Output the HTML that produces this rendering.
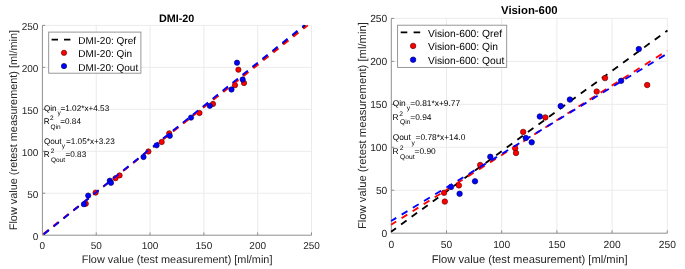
<!DOCTYPE html>
<html><head><meta charset="utf-8"><style>
html,body{margin:0;padding:0;background:#fff;width:685px;height:269px;overflow:hidden}
svg{display:block}
svg text{font-family:'Liberation Sans', Arial, Helvetica, sans-serif;white-space:pre;text-rendering:geometricPrecision}
</style></head><body>
<svg width="685" height="269" viewBox="0 0 685 269">
<rect width="685" height="269" fill="#fff"/>
<path d="M96.22 235.2V25.4M42.4 193.24H311.5M150.04 235.2V25.4M42.4 151.28H311.5M203.86 235.2V25.4M42.4 109.32H311.5M257.68 235.2V25.4M42.4 67.36H311.5M311.5 235.2V25.4M42.4 25.4H311.5" stroke="#ebebeb" stroke-width="1" fill="none"/>
<path d="M42.4 25.4V235.2H311.5M96.22 235.2v-2.8M42.4 193.24h2.8M150.04 235.2v-2.8M42.4 151.28h2.8M203.86 235.2v-2.8M42.4 109.32h2.8M257.68 235.2v-2.8M42.4 67.36h2.8M311.5 235.2v-2.8M42.4 25.4h2.8" stroke="#8f8f8f" stroke-width="1" fill="none"/>
<g font-size="10" fill="#262626"><text x="42.4" y="248.6" text-anchor="middle">0</text><text x="96.22" y="248.6" text-anchor="middle">50</text><text x="150.04" y="248.6" text-anchor="middle">100</text><text x="203.86" y="248.6" text-anchor="middle">150</text><text x="257.68" y="248.6" text-anchor="middle">200</text><text x="311.5" y="248.6" text-anchor="middle">250</text><text x="38.4" y="239.5" text-anchor="end">0</text><text x="38.4" y="197.54" text-anchor="end">50</text><text x="38.4" y="155.58" text-anchor="end">100</text><text x="38.4" y="113.62" text-anchor="end">150</text><text x="38.4" y="71.66" text-anchor="end">200</text><text x="38.4" y="29.7" text-anchor="end">250</text></g>
<line x1="42.5" y1="235.2" x2="305.5" y2="25.4" stroke="#000" stroke-width="1.8" stroke-dasharray="6.6 6.14" stroke-dashoffset="-1.3"/>
<circle cx="85.8" cy="203.7" r="2.65" fill="#ff0000" stroke="#600000" stroke-width="0.65"/>
<circle cx="95.6" cy="192.6" r="2.65" fill="#ff0000" stroke="#600000" stroke-width="0.65"/>
<circle cx="115.5" cy="178.2" r="2.65" fill="#ff0000" stroke="#600000" stroke-width="0.65"/>
<circle cx="119.6" cy="175.4" r="2.65" fill="#ff0000" stroke="#600000" stroke-width="0.65"/>
<circle cx="148.4" cy="151.5" r="2.65" fill="#ff0000" stroke="#600000" stroke-width="0.65"/>
<circle cx="161.7" cy="142" r="2.65" fill="#ff0000" stroke="#600000" stroke-width="0.65"/>
<circle cx="169.2" cy="133.3" r="2.65" fill="#ff0000" stroke="#600000" stroke-width="0.65"/>
<circle cx="199.5" cy="113" r="2.65" fill="#ff0000" stroke="#600000" stroke-width="0.65"/>
<circle cx="213" cy="103.9" r="2.65" fill="#ff0000" stroke="#600000" stroke-width="0.65"/>
<circle cx="235" cy="85.2" r="2.65" fill="#ff0000" stroke="#600000" stroke-width="0.65"/>
<circle cx="244" cy="83" r="2.65" fill="#ff0000" stroke="#600000" stroke-width="0.65"/>
<circle cx="238.4" cy="69.7" r="2.65" fill="#ff0000" stroke="#600000" stroke-width="0.65"/>
<line x1="42.4" y1="234.6" x2="307.8" y2="25.4" stroke="#ff0000" stroke-width="1.8" stroke-dasharray="6.6 6.14" stroke-dashoffset="-1.1"/>
<circle cx="83.9" cy="204.2" r="2.65" fill="#0000ff" stroke="#000060" stroke-width="0.65"/>
<circle cx="88.2" cy="195.6" r="2.65" fill="#0000ff" stroke="#000060" stroke-width="0.65"/>
<circle cx="109.8" cy="180.7" r="2.65" fill="#0000ff" stroke="#000060" stroke-width="0.65"/>
<circle cx="111" cy="182.8" r="2.65" fill="#0000ff" stroke="#000060" stroke-width="0.65"/>
<circle cx="143.5" cy="157" r="2.65" fill="#0000ff" stroke="#000060" stroke-width="0.65"/>
<circle cx="156.6" cy="145.3" r="2.65" fill="#0000ff" stroke="#000060" stroke-width="0.65"/>
<circle cx="169.8" cy="135.8" r="2.65" fill="#0000ff" stroke="#000060" stroke-width="0.65"/>
<circle cx="191" cy="117.6" r="2.65" fill="#0000ff" stroke="#000060" stroke-width="0.65"/>
<circle cx="209.8" cy="105.8" r="2.65" fill="#0000ff" stroke="#000060" stroke-width="0.65"/>
<circle cx="231.5" cy="89.5" r="2.65" fill="#0000ff" stroke="#000060" stroke-width="0.65"/>
<circle cx="242.7" cy="79.5" r="2.65" fill="#0000ff" stroke="#000060" stroke-width="0.65"/>
<circle cx="237" cy="62.7" r="2.65" fill="#0000ff" stroke="#000060" stroke-width="0.65"/>
<line x1="42.6" y1="235.2" x2="304.1" y2="25.4" stroke="#0000ff" stroke-width="1.8" stroke-dasharray="6.6 6.14" stroke-dashoffset="-1.6"/>
<text x="176.6" y="21.6" text-anchor="middle" font-weight="bold" font-size="10.8" fill="#000">DMI-20</text>
<text x="177.1" y="263" text-anchor="middle" font-size="10.9" fill="#262626">Flow value (test measurement) [ml/min]</text>
<text transform="translate(17.1 130.05) rotate(-90)" text-anchor="middle" font-size="10.9" fill="#262626">Flow value (retest measurement) [ml/min]</text>
<rect x="48.7" y="32.1" width="92.2" height="41.1" fill="#fff" stroke="#8c8c8c" stroke-width="0.9"/>
<line x1="51.6" y1="39.7" x2="71" y2="39.7" stroke="#000" stroke-width="1.8" stroke-dasharray="6.4 6.0"/>
<circle cx="64" cy="52.8" r="2.65" fill="#ff0000" stroke="#600000" stroke-width="0.65"/>
<circle cx="64" cy="66.1" r="2.65" fill="#0000ff" stroke="#000060" stroke-width="0.65"/>
<g font-size="10" fill="#000"><text x="78.2" y="44.1">DMI-20: Qref</text><text x="78.2" y="57.4">DMI-20: Qin</text><text x="78.2" y="70.6">DMI-20: Qout</text></g>
<g font-size="8.2" fill="#000"><text x="43.9" y="110.9">Qin</text><text x="57.4" y="115" font-size="6.5">y</text><text x="60.5" y="110.9">=1.02*x+4.53</text><text x="43.7" y="123.9">R</text><text x="50.1" y="120.1" font-size="6.5">2</text><text x="50.6" y="128.7" font-size="6.5">Qin</text><text x="60.25" y="123.9">=0.84</text></g>
<g font-size="8.2" fill="#000"><text x="43.9" y="143.9">Qout</text><text x="61.8" y="148" font-size="6.5">y</text><text x="66" y="143.9">=1.05*x+3.23</text><text x="43.7" y="157.1">R</text><text x="50.7" y="153.3" font-size="6.5">2</text><text x="50.9" y="161.9" font-size="6.5">Qout</text><text x="65.5" y="157.1">=0.83</text></g>
<path d="M446.5 233.2V18.4M391.3 190.24H667.3M501.7 233.2V18.4M391.3 147.28H667.3M556.9 233.2V18.4M391.3 104.32H667.3M612.1 233.2V18.4M391.3 61.36H667.3M667.3 233.2V18.4M391.3 18.4H667.3" stroke="#ebebeb" stroke-width="1" fill="none"/>
<path d="M391.3 18.4V233.2H667.3M446.5 233.2v-2.9M391.3 190.24h2.9M501.7 233.2v-2.9M391.3 147.28h2.9M556.9 233.2v-2.9M391.3 104.32h2.9M612.1 233.2v-2.9M391.3 61.36h2.9M667.3 233.2v-2.9M391.3 18.4h2.9" stroke="#8f8f8f" stroke-width="1" fill="none"/>
<g font-size="10.27" fill="#262626"><text x="391.3" y="247.9" text-anchor="middle">0</text><text x="446.5" y="247.9" text-anchor="middle">50</text><text x="501.7" y="247.9" text-anchor="middle">100</text><text x="556.9" y="247.9" text-anchor="middle">150</text><text x="612.1" y="247.9" text-anchor="middle">200</text><text x="667.3" y="247.9" text-anchor="middle">250</text><text x="387.3" y="237.2" text-anchor="end">0</text><text x="387.3" y="194.24" text-anchor="end">50</text><text x="387.3" y="151.28" text-anchor="end">100</text><text x="387.3" y="108.32" text-anchor="end">150</text><text x="387.3" y="65.36" text-anchor="end">200</text><text x="387.3" y="22.4" text-anchor="end">250</text></g>
<line x1="391.1" y1="231.8" x2="667.5" y2="30.4" stroke="#000" stroke-width="1.85" stroke-dasharray="6.8 6.28" stroke-dashoffset="0.75"/>
<circle cx="444" cy="192.8" r="2.75" fill="#ff0000" stroke="#600000" stroke-width="0.65"/>
<circle cx="444.8" cy="201.6" r="2.75" fill="#ff0000" stroke="#600000" stroke-width="0.65"/>
<circle cx="458.9" cy="185.4" r="2.75" fill="#ff0000" stroke="#600000" stroke-width="0.65"/>
<circle cx="480.2" cy="165" r="2.75" fill="#ff0000" stroke="#600000" stroke-width="0.65"/>
<circle cx="515.2" cy="148.3" r="2.75" fill="#ff0000" stroke="#600000" stroke-width="0.65"/>
<circle cx="516" cy="153" r="2.75" fill="#ff0000" stroke="#600000" stroke-width="0.65"/>
<circle cx="523.2" cy="131.9" r="2.75" fill="#ff0000" stroke="#600000" stroke-width="0.65"/>
<circle cx="545.3" cy="117.4" r="2.75" fill="#ff0000" stroke="#600000" stroke-width="0.65"/>
<circle cx="596.7" cy="91.6" r="2.75" fill="#ff0000" stroke="#600000" stroke-width="0.65"/>
<circle cx="605" cy="78.1" r="2.75" fill="#ff0000" stroke="#600000" stroke-width="0.65"/>
<circle cx="647.2" cy="85" r="2.75" fill="#ff0000" stroke="#600000" stroke-width="0.65"/>
<line x1="391.1" y1="224.8" x2="667.3" y2="50.6" stroke="#ff0000" stroke-width="1.85" stroke-dasharray="6.8 6.28" stroke-dashoffset="0.75"/>
<circle cx="451" cy="186.9" r="2.75" fill="#0000ff" stroke="#000060" stroke-width="0.65"/>
<circle cx="459.6" cy="193.8" r="2.75" fill="#0000ff" stroke="#000060" stroke-width="0.65"/>
<circle cx="475" cy="181.3" r="2.75" fill="#0000ff" stroke="#000060" stroke-width="0.65"/>
<circle cx="490.3" cy="156.8" r="2.75" fill="#0000ff" stroke="#000060" stroke-width="0.65"/>
<circle cx="525.8" cy="138" r="2.75" fill="#0000ff" stroke="#000060" stroke-width="0.65"/>
<circle cx="531.7" cy="142.3" r="2.75" fill="#0000ff" stroke="#000060" stroke-width="0.65"/>
<circle cx="539.8" cy="116.5" r="2.75" fill="#0000ff" stroke="#000060" stroke-width="0.65"/>
<circle cx="560.7" cy="106.1" r="2.75" fill="#0000ff" stroke="#000060" stroke-width="0.65"/>
<circle cx="569.9" cy="99.6" r="2.75" fill="#0000ff" stroke="#000060" stroke-width="0.65"/>
<circle cx="621.1" cy="80.8" r="2.75" fill="#0000ff" stroke="#000060" stroke-width="0.65"/>
<circle cx="638.8" cy="49.1" r="2.75" fill="#0000ff" stroke="#000060" stroke-width="0.65"/>
<line x1="391.1" y1="221" x2="667.3" y2="53.6" stroke="#0000ff" stroke-width="1.85" stroke-dasharray="6.8 6.28" stroke-dashoffset="0.75"/>
<text x="529.3" y="13.8" text-anchor="middle" font-weight="bold" font-size="11.35" fill="#000">Vision-600</text>
<text x="529.6" y="262.7" text-anchor="middle" font-size="11.2" fill="#262626">Flow value (test measurement) [ml/min]</text>
<text transform="translate(366 125.65) rotate(-90)" text-anchor="middle" font-size="11.26" fill="#262626">Flow value (retest measurement) [ml/min]</text>
<rect x="397.6" y="25.2" width="109.1" height="42.2" fill="#fff" stroke="#8c8c8c" stroke-width="0.9"/>
<line x1="400.7" y1="32.3" x2="420.6" y2="32.3" stroke="#000" stroke-width="1.85" stroke-dasharray="6.6 6.3"/>
<circle cx="413.1" cy="45.9" r="2.75" fill="#ff0000" stroke="#600000" stroke-width="0.65"/>
<circle cx="413.1" cy="59.7" r="2.75" fill="#0000ff" stroke="#000060" stroke-width="0.65"/>
<g font-size="10.27" fill="#000"><text x="428" y="36.5">Vision-600: Qref</text><text x="428" y="50.1">Vision-600: Qin</text><text x="428" y="63.6">Vision-600: Qout</text></g>
<g font-size="8.4" fill="#000"><text x="392.7" y="105.9">Qin</text><text x="406.7" y="110.2" font-size="6.7">y</text><text x="410.3" y="105.9">=0.81*x+9.77</text><text x="392.5" y="120">R</text><text x="399.3" y="115.6" font-size="6.7">2</text><text x="400.1" y="124.3" font-size="6.7">Qin</text><text x="410.3" y="120">=0.94</text></g>
<g font-size="8.4" fill="#000"><text x="392.7" y="140.4">Qout</text><text x="411.4" y="144.7" font-size="6.7">y</text><text x="415.5" y="140.4">=0.78*x+14.0</text><text x="392.5" y="153.75">R</text><text x="399.7" y="149.95" font-size="6.7">2</text><text x="400.1" y="158.65" font-size="6.7">Qout</text><text x="414.5" y="153.75">=0.90</text></g>
</svg>
</body></html>
